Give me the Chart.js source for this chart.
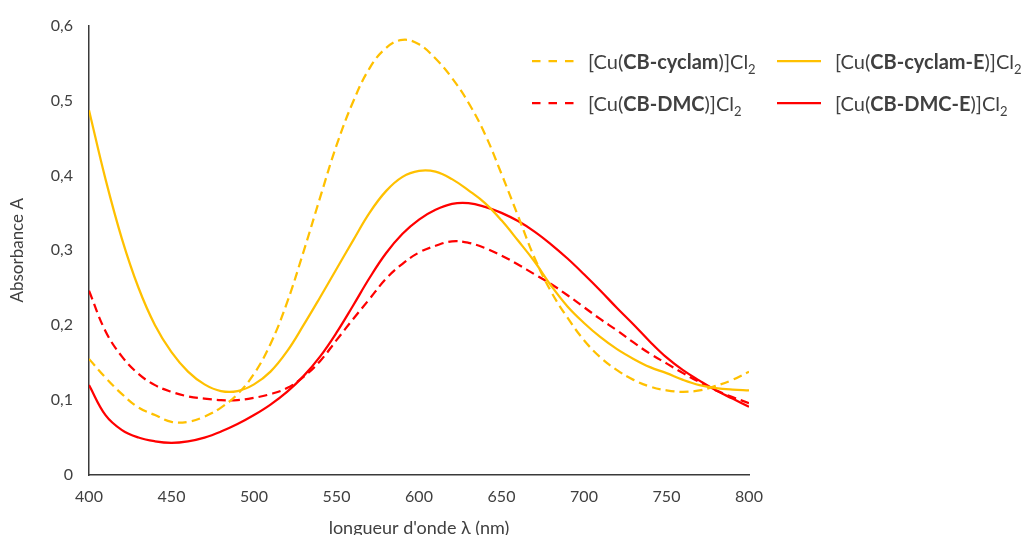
<!DOCTYPE html>
<html>
<head>
<meta charset="utf-8">
<script src="https://cdn.jsdelivr.net/npm/chart.js@4/dist/chart.umd.min.js"></script>
<style>
  body { margin: 0; background: #fff; }
  #wrap { position: relative; width: 1022px; height: 535px; overflow: hidden; }
  #legend { position: absolute; left: 0; top: 0; font-family: Lato, "Noto Sans", sans-serif; font-size: 20px; color: #404040; }
  .item { position: absolute; display: flex; align-items: center; white-space: nowrap; }
  .item svg { margin-right: 14px; }
  .item sub { font-size: 13px; vertical-align: -5px; line-height: 0; }
</style>
</head>
<body>
<div id="wrap">
  <canvas id="chart" width="1022" height="535"></canvas>
  <div id="legend"></div>
</div>
<script>
// wavelength (nm)
const wavelengths = [400,410,420,430,440,450,460,470,480,490,500,510,520,530,540,550,560,570,580,590,600,
  610,620,630,640,650,660,670,680,690,700,710,720,730,740,750,760,770,780,790,800]

const cyclam = [0.155,0.130,0.108,0.090,0.080,0.071,0.071,0.078,0.090,0.108,0.135,0.175,0.230,0.298,0.370,0.440,0.498,0.543,0.570,0.581,0.575,
  0.556,0.530,0.497,0.455,0.402,0.346,0.290,0.245,0.210,0.180,0.157,0.140,0.127,0.118,0.113,0.111,0.113,0.119,0.127,0.138]

const cyclamE = [0.487,0.395,0.315,0.250,0.200,0.164,0.138,0.121,0.112,0.112,0.121,0.138,0.165,0.200,0.237,0.275,0.313,0.350,0.379,0.398,0.406,
  0.405,0.395,0.380,0.363,0.340,0.313,0.285,0.253,0.225,0.203,0.184,0.168,0.155,0.144,0.136,0.127,0.120,0.116,0.114,0.113]

const dmc = [0.246,0.192,0.158,0.135,0.120,0.111,0.105,0.102,0.100,0.100,0.103,0.108,0.116,0.131,0.152,0.180,0.208,0.235,0.262,0.282,0.297,
  0.306,0.312,0.310,0.303,0.293,0.281,0.268,0.255,0.240,0.224,0.208,0.193,0.177,0.162,0.149,0.136,0.124,0.113,0.104,0.096]

const dmcE = [0.120,0.080,0.060,0.050,0.045,0.043,0.045,0.050,0.058,0.068,0.080,0.094,0.111,0.132,0.158,0.190,0.226,0.263,0.296,0.322,0.341,
  0.354,0.362,0.363,0.358,0.350,0.339,0.325,0.308,0.289,0.268,0.246,0.223,0.201,0.178,0.157,0.140,0.126,0.113,0.102,0.091]

const seriesNames = ["[Cu(CB-cyclam)]Cl2", "[Cu(CB-cyclam-E)]Cl2", "[Cu(CB-DMC)]Cl2", "[Cu(CB-DMC-E)]Cl2"]
const seriesBold = ["CB-cyclam", "CB-cyclam-E", "CB-DMC", "CB-DMC-E"]
const seriesColors = ["#FFC000", "#FFC000", "#FF0000", "#FF0000"]
const seriesDashed = [true, false, true, false]

const FONT = 'Lato, "Noto Sans", sans-serif'
const allSeries = [cyclam, cyclamE, dmc, dmcE]

const datasets = allSeries.map((vals, i) => ({
  label: seriesNames[i],
  data: wavelengths.map((x, j) => ({ x, y: vals[j] })),
  borderColor: seriesColors[i],
  borderWidth: 2.25,
  borderDash: seriesDashed[i] ? [9, 5] : [],
  pointRadius: 0,
  fill: false,
  tension: 0.4
}))

const chart = new Chart(document.getElementById("chart").getContext("2d"), {
  type: "line",
  data: { datasets },
  options: {
    responsive: false,
    animation: false,
    layout: { padding: { top: 22, right: 273, bottom: 0, left: 0 } },
    plugins: { legend: { display: false }, tooltip: { enabled: false } },
    scales: {
      x: {
        type: "linear", min: 400, max: 800,
        afterFit: s => { s.height = 60 },
        grid: { display: false, drawTicks: false },
        border: { display: true, color: "#3a3a3a", width: 1.5 },
        ticks: { stepSize: 50, padding: 12, color: "#404040", font: { family: FONT, size: 16 } },
        title: { display: true, text: "longueur d'onde λ (nm)", color: "#404040",
          font: { family: FONT, size: 18 }, padding: { top: 0, bottom: -4 } }
      },
      y: {
        min: 0, max: 0.6,
        afterFit: s => { s.width = 89 },
        grid: { display: false, drawTicks: false },
        border: { display: true, color: "#3a3a3a", width: 1.5 },
        ticks: {
          stepSize: 0.1, padding: 16, color: "#404040", font: { family: FONT, size: 16 },
          callback: v => v === 0 ? "0" : v.toFixed(1).replace(".", ",")
        },
        title: { display: true, text: "Absorbance A", color: "#404040",
          font: { family: FONT, size: 17 }, padding: { top: 7, bottom: 0 } }
      }
    }
  }
})

// legend with bold names and subscript 2
const legendPos = [
  { lx: 532, tx: 588, y: 61 },
  { lx: 777, tx: 835, y: 61 },
  { lx: 532, tx: 588, y: 103 },
  { lx: 777, tx: 835, y: 103 }
]
const legend = document.getElementById("legend")
chart.data.datasets.forEach((ds, i) => {
  const p = legendPos[i]
  const div = document.createElement("div")
  div.className = "item"
  div.style.left = p.lx + "px"
  div.style.top = (p.y - 14) + "px"
  div.style.height = "28px"
  const w = p.tx - p.lx - 14
  const dash = seriesDashed[i] ? 'stroke-dasharray="8.5 8"' : ""
  div.innerHTML = `<svg width="${w}" height="6"><line x1="0" y1="3" x2="${w}" y2="3" stroke="${ds.borderColor}" stroke-width="2.25" ${dash}/></svg>` +
    `<span>[Cu(<b>${seriesBold[i]}</b>)]Cl<sub>2</sub></span>`
  legend.appendChild(div)
})
</script>
</body>
</html>
